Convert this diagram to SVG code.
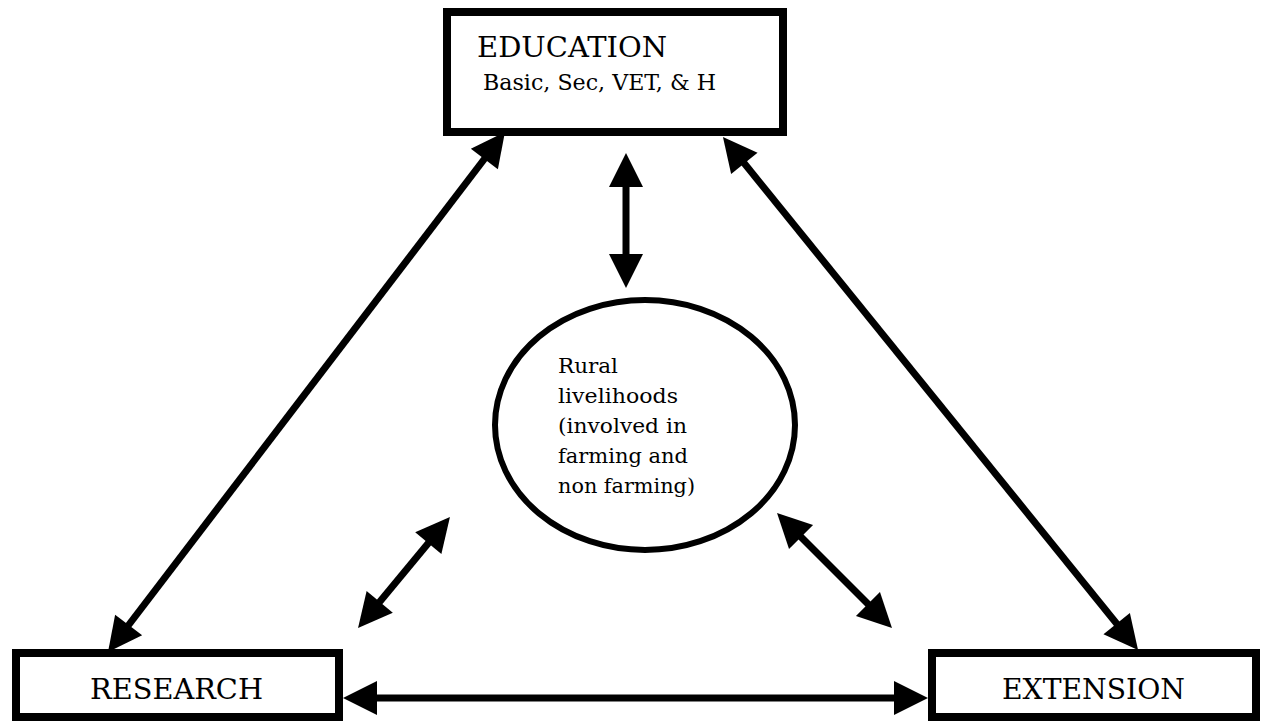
<svg xmlns="http://www.w3.org/2000/svg" width="1261" height="722" viewBox="0 0 1261 722">
<style>
.box{fill:#fff;stroke:#000;stroke-width:8}
.ell{fill:#fff;stroke:#000;stroke-width:6}
.lbl{font-family:"DejaVu Serif","Liberation Serif",serif;fill:#000}
.big{font-size:28px}
.mid{font-size:22px}
.sm{font-size:20px}
.arr{stroke:#000;stroke-width:7;fill:none;marker-start:url(#ah);marker-end:url(#ah)}
</style>
<defs>
<marker id="ah" markerUnits="userSpaceOnUse" viewBox="0 -18 36 36" refX="22" refY="0" markerWidth="36" markerHeight="36" orient="auto-start-reverse" overflow="visible">
<path d="M0,-17 L34,0 L0,17 Z" fill="#000"/>
</marker>
</defs>
<rect width="1261" height="722" fill="#fff"/>
<g id="connectors">
<line class="arr" x1="626" y1="165" x2="626" y2="276"/>
<line class="arr" x1="355" y1="698" x2="916" y2="698"/>
<line class="arr" x1="497.7" y1="141.5" x2="115.3" y2="642.5"/>
<line class="arr" x1="730.5" y1="146.3" x2="1130.5" y2="640.7"/>
<line class="arr" x1="442.3" y1="526.2" x2="365.7" y2="618.8"/>
<line class="arr" x1="785.5" y1="521.5" x2="883.5" y2="619.5"/>
</g>
<g id="education">
<rect class="box" x="447" y="12" width="336" height="120"/>
<text class="lbl big" x="477" y="57" textLength="190" lengthAdjust="spacingAndGlyphs">EDUCATION</text>
<text class="lbl mid" x="483" y="90" textLength="233" lengthAdjust="spacingAndGlyphs">Basic, Sec, VET, &amp; H</text>
</g>
<g id="livelihoods">
<ellipse class="ell" cx="645" cy="425" rx="150" ry="125"/>
<text class="lbl sm" x="558" y="373" textLength="60" lengthAdjust="spacingAndGlyphs">Rural</text>
<text class="lbl sm" x="558" y="403" textLength="120" lengthAdjust="spacingAndGlyphs">livelihoods</text>
<text class="lbl sm" x="558" y="433" textLength="129" lengthAdjust="spacingAndGlyphs">(involved in</text>
<text class="lbl sm" x="558" y="463" textLength="130" lengthAdjust="spacingAndGlyphs">farming and</text>
<text class="lbl sm" x="558" y="493" textLength="137" lengthAdjust="spacingAndGlyphs">non farming)</text>
</g>
<g id="research">
<rect class="box" x="16" y="653" width="323" height="64"/>
<text class="lbl big" x="90" y="699" textLength="173" lengthAdjust="spacingAndGlyphs">RESEARCH</text>
</g>
<g id="extension">
<rect class="box" x="932" y="653" width="324" height="64"/>
<text class="lbl big" x="1002" y="699" textLength="183" lengthAdjust="spacingAndGlyphs">EXTENSION</text>
</g>
</svg>
